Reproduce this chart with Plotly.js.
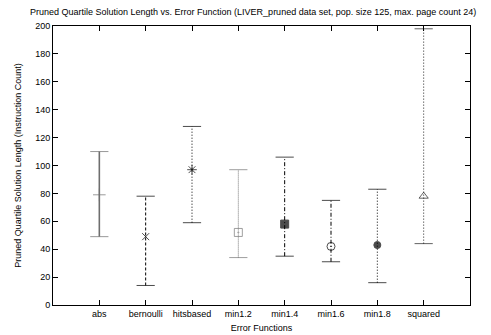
<!DOCTYPE html>
<html><head><meta charset="utf-8">
<script src="https://cdn.plot.ly/plotly-3.0.1.min.js"></script>
<style>html,body{margin:0;padding:0;background:#fff}#chart{width:491px;height:335px}</style>
</head><body><div id="chart"></div>
<script>
const categories = ["abs","bernoulli","hitsbased","min1.2","min1.4","min1.6","min1.8","squared"];
const lowerQuartile = [49, 14, 59, 34, 35, 31, 16, 44];
const median = [79, 49, 97, 52, 58, 42, 43, 78];
const upperQuartile = [110, 78, 128, 97, 106, 75, 83, 198];
const yTicks = [0,20,40,60,80,100,120,140,160,180,200];

const symbols = ["cross-thin-open","x-thin-open","asterisk-open","square-open-dot","square","circle-open-dot","circle","triangle-up-open"];
const colors = ["#6e6e6e","#000","#000","#777","#000","#000","#000","#222"];
const dashes = ["solid","3px,2px","1px,2px","1px,1px","4px,2px,1px,2px","4px,2px,1px,2px","1px,2px","1px,2px"];
const widths = [1.6,1,1,1,1,1,1,1];
const msize = [9,7,8,8,8,8,7,8];

const traces = categories.map((c,i)=>({
  type:"scatter", mode:"lines+markers",
  x:[c,c,c], y:[lowerQuartile[i], median[i], upperQuartile[i]],
  line:{color:colors[i], width:widths[i], dash:dashes[i]},
  marker:{symbol:["line-ew",symbols[i],"line-ew"], size:[13,msize[i],13], color:colors[i],
          line:{color:colors[i], width:1}},
  showlegend:false, hoverinfo:"skip"
}));

const layout = {
  width:491, height:335,
  margin:{l:53, r:21, t:26, b:30},
  paper_bgcolor:"#fff", plot_bgcolor:"#fff",
  font:{family:"Liberation Sans, Arial, sans-serif", size:9, color:"#000"},
  title:{text:"Pruned Quartile Solution Length vs. Error Function (LIVER_pruned data set, pop. size 125, max. page count 24)",
         font:{size:9, color:"#000"}, xref:"container", x:30/491, xanchor:"left", yref:"container", y:1-12/335, yanchor:"middle"},
  xaxis:{type:"category", categoryorder:"array", categoryarray:categories, range:[-1,8],
         showgrid:false, zeroline:false, showline:true, linecolor:"#000", linewidth:1, mirror:"ticks",
         ticks:"inside", ticklen:5, tickcolor:"#000", tickfont:{size:9},
         title:{text:"Error Functions", font:{size:9}, standoff:6}},
  yaxis:{range:[0,200], tickvals:yTicks, showgrid:false, zeroline:false, showline:true, linecolor:"#000", linewidth:1,
         mirror:"ticks", ticks:"inside", ticklen:5, tickcolor:"#000", tickfont:{size:9},
         title:{text:"Pruned Quartile Solution Length (Instruction Count)", font:{size:9}, standoff:12}}
};
Plotly.newPlot("chart", traces, layout, {displayModeBar:false, staticPlot:true});
</script></body></html>
